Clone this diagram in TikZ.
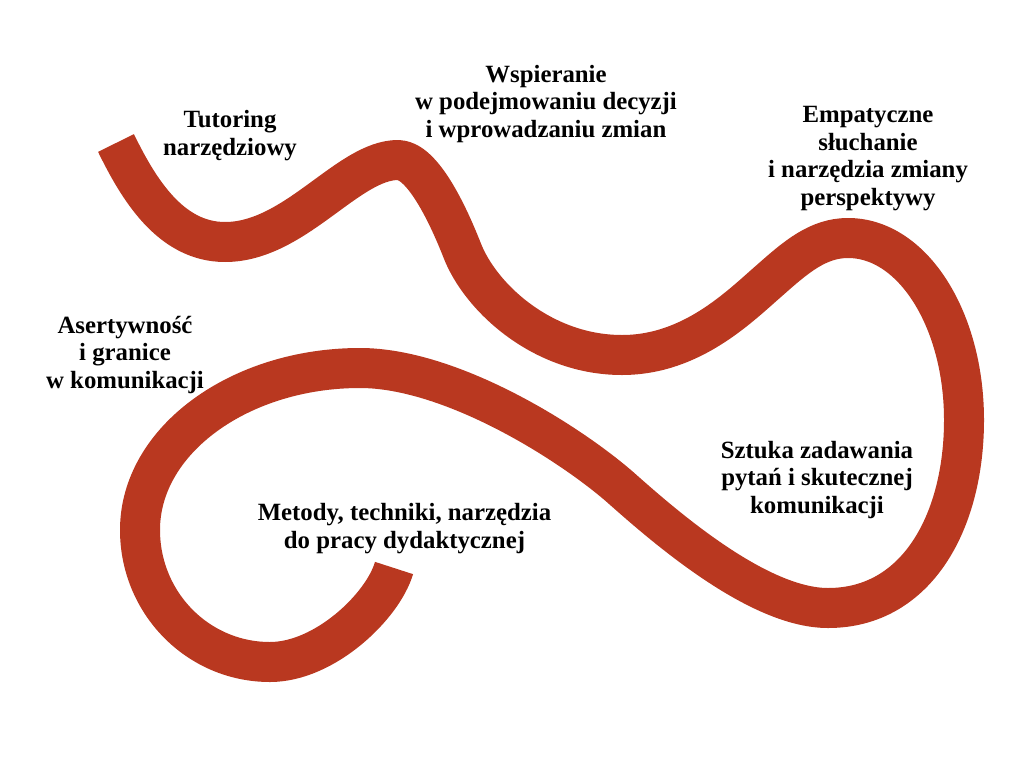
\documentclass[tikz,border=0pt]{standalone}
\usepackage{fontspec}
\setmainfont{Liberation Serif}
\definecolor{ribbon}{RGB}{185,56,32}
\tikzset{
  band/.style={draw=ribbon, line width=40pt, line join=round},
  lbl/.style={align=center, inner sep=0pt, anchor=base, font=\fontsize{24.8pt}{27.5pt}\selectfont\bfseries}
}
\begin{document}
\begin{tikzpicture}[x=1pt,y=-1pt]
\useasboundingbox (0,0) rectangle (1024,768);
\coordinate (p0) at (116,143);
\coordinate (p10) at (394,568);
\draw[band] (p0)
  .. controls (138,188) and (170,242) .. (225,242)
  .. controls (295,242) and (348,160) .. (398,160)
  .. controls (423,160) and (449,217) .. (462,250)
  .. controls (480,297) and (542,355) .. (622,355)
  .. controls (692,355) and (740,306) .. (770,280)
  .. controls (796,257) and (818,238) .. (848,238)
  .. controls (913,238) and (964,320) .. (964,420)
  .. controls (964,520) and (918,608) .. (828,608)
  .. controls (758,608) and (665,527) .. (620,487)
  .. controls (567,441) and (450,368) .. (360,368)
  .. controls (240,368) and (140,440) .. (140,530)
  .. controls (140,603) and (198,662) .. (270,662)
  .. controls (325,662) and (383,606) .. (p10);
\node[lbl] (tut) at (230,155) {Tutoring\\narzędziowy};
\node[lbl] (wsp) at (546,137) {Wspieranie\\w podejmowaniu decyzji\\i wprowadzaniu zmian};
\node[lbl] (emp) at (868,205) {Empatyczne\\słuchanie\\i narzędzia zmiany\\perspektywy};
\node[lbl] (ase) at (125,388) {Asertywność\\i granice\\w komunikacji};
\node[lbl] (szt) at (817,513) {Sztuka zadawania\\pytań i skutecznej\\komunikacji};
\node[lbl] (met) at (404.5,548) {Metody, techniki, narzędzia\\do pracy dydaktycznej};
\end{tikzpicture}
\end{document}
